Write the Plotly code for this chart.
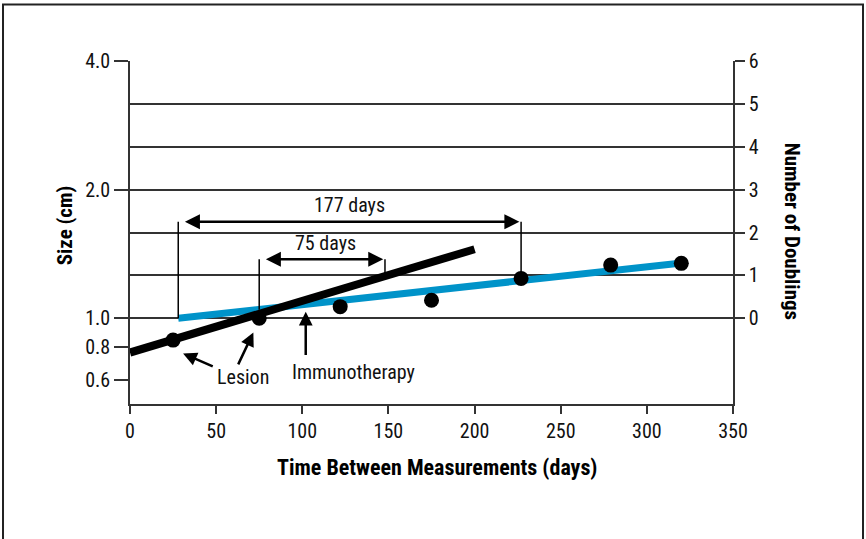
import plotly.graph_objects as go

# measured lesion sizes, expressed as number of volume doublings (right axis)
days = [25, 75, 122, 175, 227, 279, 320]
doublings = [-0.51, 0.0, 0.27, 0.42, 0.93, 1.24, 1.28]

# fitted growth lines (before / after immunotherapy)
pre_x = [0, 200]
pre_y = [-0.80, 1.61]
post_x = [28, 323]
post_y = [0.0, 1.30]

# left axis labels (size in cm) and where they sit on the doubling scale
size_labels = ["0.6", "0.8", "1.0", "2.0", "4.0"]
size_pos = [-1.45, -0.68, 0, 3, 6]
doubling_ticks = [0, 1, 2, 3, 4, 5, 6]
day_ticks = [0, 50, 100, 150, 200, 250, 300, 350]

# interval brackets: label, start, end, level, foot of left line, foot of right line
intervals = [
    ("177 days", 28, 227, 2.25, 0.0, 0.93),
    ("75 days", 75, 148, 1.375, 0.20, 0.98),
]

FONT = "Liberation Sans Narrow, Arial Narrow, Roboto Condensed, sans-serif"
BLUE = "#0093c9"

fig = go.Figure()
# both fitted lines on the left axis (same range as the right one), black above blue
fig.add_trace(go.Scatter(x=post_x, y=post_y, mode="lines", yaxis="y",
                         line=dict(color=BLUE, width=7), hoverinfo="skip"))
fig.add_trace(go.Scatter(x=pre_x, y=pre_y, mode="lines", yaxis="y",
                         line=dict(color="black", width=8), hoverinfo="skip"))
fig.add_trace(go.Scatter(x=days, y=doublings, mode="markers", yaxis="y2",
                         marker=dict(color="black", size=15)))

shapes = []
annos = []
for label, x0, x1, lvl, f0, f1 in intervals:
    shapes.append(dict(type="line", xref="x", yref="y2", x0=x0, x1=x0, y0=lvl, y1=f0,
                       line=dict(color="black", width=1.5)))
    shapes.append(dict(type="line", xref="x", yref="y2", x0=x1, x1=x1, y0=lvl, y1=f1,
                       line=dict(color="black", width=1.5)))
    annos.append(dict(x=x1 - 1, y=lvl, ax=x0 + 3, ay=lvl, xref="x", yref="y2",
                      axref="x", ayref="y2", text="", showarrow=True,
                      arrowside="end+start", arrowhead=2, arrowsize=1.2,
                      arrowwidth=2.5, arrowcolor="black"))
    annos.append(dict(x=(x0 + x1) / 2 + (0 if label.startswith("177") else 2), y=lvl + 0.38,
                      xref="x", yref="y2", text=label, showarrow=False,
                      font=dict(size=20, color="#111", family=FONT)))

# Lesion / Immunotherapy labels with pointers
annos += [
    dict(x=30.8, y=-0.82, ax=48.9, ay=-1.14, xref="x", yref="y2", axref="x", ayref="y2",
         text="", showarrow=True, arrowhead=2, arrowsize=1.1, arrowwidth=2.5, arrowcolor="black"),
    dict(x=71.6, y=-0.33, ax=62.4, ay=-1.11, xref="x", yref="y2", axref="x", ayref="y2",
         text="", showarrow=True, arrowhead=2, arrowsize=1.1, arrowwidth=2.5, arrowcolor="black"),
    dict(x=65.4, y=-1.38, xref="x", yref="y2", text="Lesion", showarrow=False,
         font=dict(size=20, color="#111", family=FONT)),
    dict(x=102, y=0.15, ax=102, ay=-0.89, xref="x", yref="y2", axref="x", ayref="y2",
         text="", showarrow=True, arrowhead=2, arrowsize=1.1, arrowwidth=2.5, arrowcolor="black"),
    dict(x=129.7, y=-1.26, xref="x", yref="y2", text="Immunotherapy", showarrow=False,
         font=dict(size=20, color="#111", family=FONT)),
    # axis titles
    dict(x=0.51, y=-0.227, xref="paper", yref="paper", showarrow=False,
         text="<b>Time Between Measurements (days)</b>",
         font=dict(size=22, color="black", family=FONT)),
    dict(x=-0.131, y=0.521, xref="paper", yref="paper", showarrow=False, textangle=-90,
         text="<b>Size (cm)</b>", font=dict(size=21, color="black", family=FONT)),
    dict(x=1.121, y=0.502, xref="paper", yref="paper", showarrow=False, textangle=90,
         text="<b>Number of Doublings</b>", font=dict(size=21, color="black", family=FONT)),
]

# outer frame
shapes.append(dict(type="rect", xref="paper", yref="paper", x0=-0.2106, x1=1.2156,
                   y0=-0.42, y1=1.165, line=dict(color="#222", width=2)))

axis_line = dict(showline=True, linecolor="#333", linewidth=1.5, ticks="outside",
                 tickcolor="#333", tickwidth=1.5, zeroline=False,
                 tickfont=dict(size=20, color="#111", family=FONT))

fig.update_layout(
    width=866, height=539,
    margin=dict(l=130, r=133, t=61, b=135),
    paper_bgcolor="white", plot_bgcolor="white",
    showlegend=False,
    xaxis=dict(range=[0, 350], tickvals=day_ticks, ticklen=8, showgrid=False, **axis_line),
    yaxis=dict(range=[-2, 6], tickvals=size_pos, ticktext=size_labels, ticklen=14,
               showgrid=False, **axis_line),
    yaxis2=dict(range=[-2, 6], tickvals=doubling_ticks, ticklen=10, overlaying="y",
                side="right", showgrid=True, gridcolor="#333", gridwidth=1.5, **axis_line),
    shapes=shapes,
    annotations=annos,
)

fig.write_html("out.html", config={"displayModeBar": False},
               post_script="document.body.style.margin='0';")
